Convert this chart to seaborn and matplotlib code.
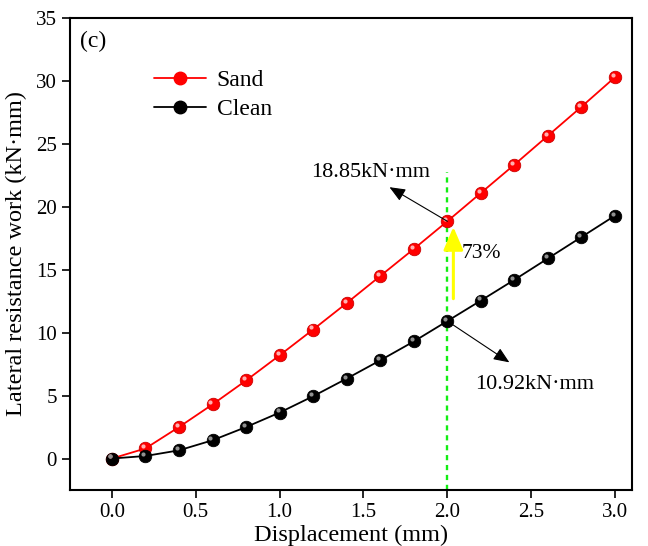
import numpy as np
import pandas as pd
import matplotlib
matplotlib.use("Agg")
import matplotlib.pyplot as plt
import matplotlib.transforms as mtransforms
from matplotlib.lines import Line2D
import seaborn as sns

# data
displacement = [0.0, 0.2, 0.4, 0.6, 0.8, 1.0, 1.2, 1.4, 1.6, 1.8, 2.0, 2.2, 2.4, 2.6, 2.8, 3.0]
sand = [0.0, 0.8, 2.5, 4.3, 6.2, 8.2, 10.25, 12.35, 14.5, 16.65, 18.85, 21.1, 23.35, 25.65, 27.95, 30.3]
clean = [0.0, 0.2, 0.65, 1.45, 2.5, 3.65, 4.95, 6.35, 7.8, 9.3, 10.92, 12.55, 14.2, 15.9, 17.6, 19.3]
series_names = ["Sand", "Clean"]
series_colors = ["#ff0000", "#000000"]
x_ticks = [0.0, 0.5, 1.0, 1.5, 2.0, 2.5, 3.0]
y_ticks = [0, 5, 10, 15, 20, 25, 30, 35]

df = pd.DataFrame({
    "Displacement": displacement * 2,
    "Work": sand + clean,
    "Series": [series_names[0]] * len(sand) + [series_names[1]] * len(clean),
})

sns.set_style("ticks")
plt.rcParams["font.family"] = ["Liberation Serif", "DejaVu Serif"]
plt.rcParams["text.color"] = "black"
plt.rcParams["axes.labelcolor"] = "black"

fig = plt.figure(figsize=(6.48, 5.46), dpi=100)
ax = fig.add_axes([0.108, 0.1026, 0.867, 0.8644])

sns.lineplot(data=df, x="Displacement", y="Work", hue="Series",
             palette=dict(zip(series_names, series_colors)), marker="o",
             markersize=9, linewidth=1.3, markeredgewidth=0.6,
             ax=ax, legend=False, zorder=3)
for line, c in zip(ax.lines, ["#cc0000", "#000000"]):
    line.set_markeredgecolor(c)

# glossy highlight on markers
hl = mtransforms.offset_copy(ax.transData, fig=fig, x=-1.5, y=1.5, units="points")
for vals, c in zip([sand, clean], ["#ffb0b0", "#909090"]):
    ax.plot(displacement, vals, "o", ms=3, color=c, mec="none", transform=hl, zorder=4)

# green dashed reference line at 2.0 mm
ax.plot([2.0, 2.0], [-2.5, 22.8], ls=(0, (2.2, 2.0)), color="#11ee11", lw=1.7, zorder=2)

# annotations
arrow_kw = dict(arrowstyle="-|>,head_length=0.6,head_width=0.25", color="black", lw=0.8,
                mutation_scale=16, shrinkA=0, shrinkB=0)
ax.annotate("", xy=(1.655, 21.56), xytext=(2.0, 18.85), arrowprops=arrow_kw, zorder=5)
ax.text(1.54, 22.7, "18.85kN·mm", fontsize=16, ha="center", va="center")
ax.annotate("", xy=(2.37, 7.64), xytext=(2.0, 10.92), arrowprops=arrow_kw, zorder=5)
ax.text(2.52, 5.9, "10.92kN·mm", fontsize=16, ha="center", va="center")
ax.annotate("", xy=(2.036, 18.4), xytext=(2.036, 12.7),
            arrowprops=dict(arrowstyle="-|>,head_length=0.7,head_width=0.3", color="#ffff00",
                            lw=2.2, mutation_scale=20, shrinkA=0, shrinkB=0), zorder=5)
ax.text(2.085, 16.3, "73%", fontsize=15.5, ha="left", va="center")
ax.text(-0.19, 33.1, "(c)", fontsize=17, ha="left", va="center")

# legend
handles = [Line2D([0], [0], color=c, marker="o", ms=9, lw=1.3, mec=c) for c in series_colors]
ax.legend(handles, series_names, loc="upper left", bbox_to_anchor=(0.133, 0.91),
          frameon=False, fontsize=17, handlelength=2.2, handletextpad=0.45,
          labelspacing=0.3, borderaxespad=0)

ax.set_xlim(-0.25, 3.1)
ax.set_ylim(-2.5, 35)
ax.set_xticks(x_ticks)
ax.set_xticklabels([f"{v:.1f}" for v in x_ticks])
ax.set_yticks(y_ticks)
ax.set_xlabel("Displacement (mm)", fontsize=17.5, labelpad=2)
ax.set_ylabel("Lateral resistance work (kN·mm)", fontsize=17.5, labelpad=6)
ax.tick_params(axis="both", labelsize=15, direction="out", length=6, width=1.2,
               top=False, right=False, colors="black")
for s in ax.spines.values():
    s.set_visible(True)
    s.set_linewidth(1.5)
    s.set_color("black")

fig.savefig("out.png", dpi=100)
